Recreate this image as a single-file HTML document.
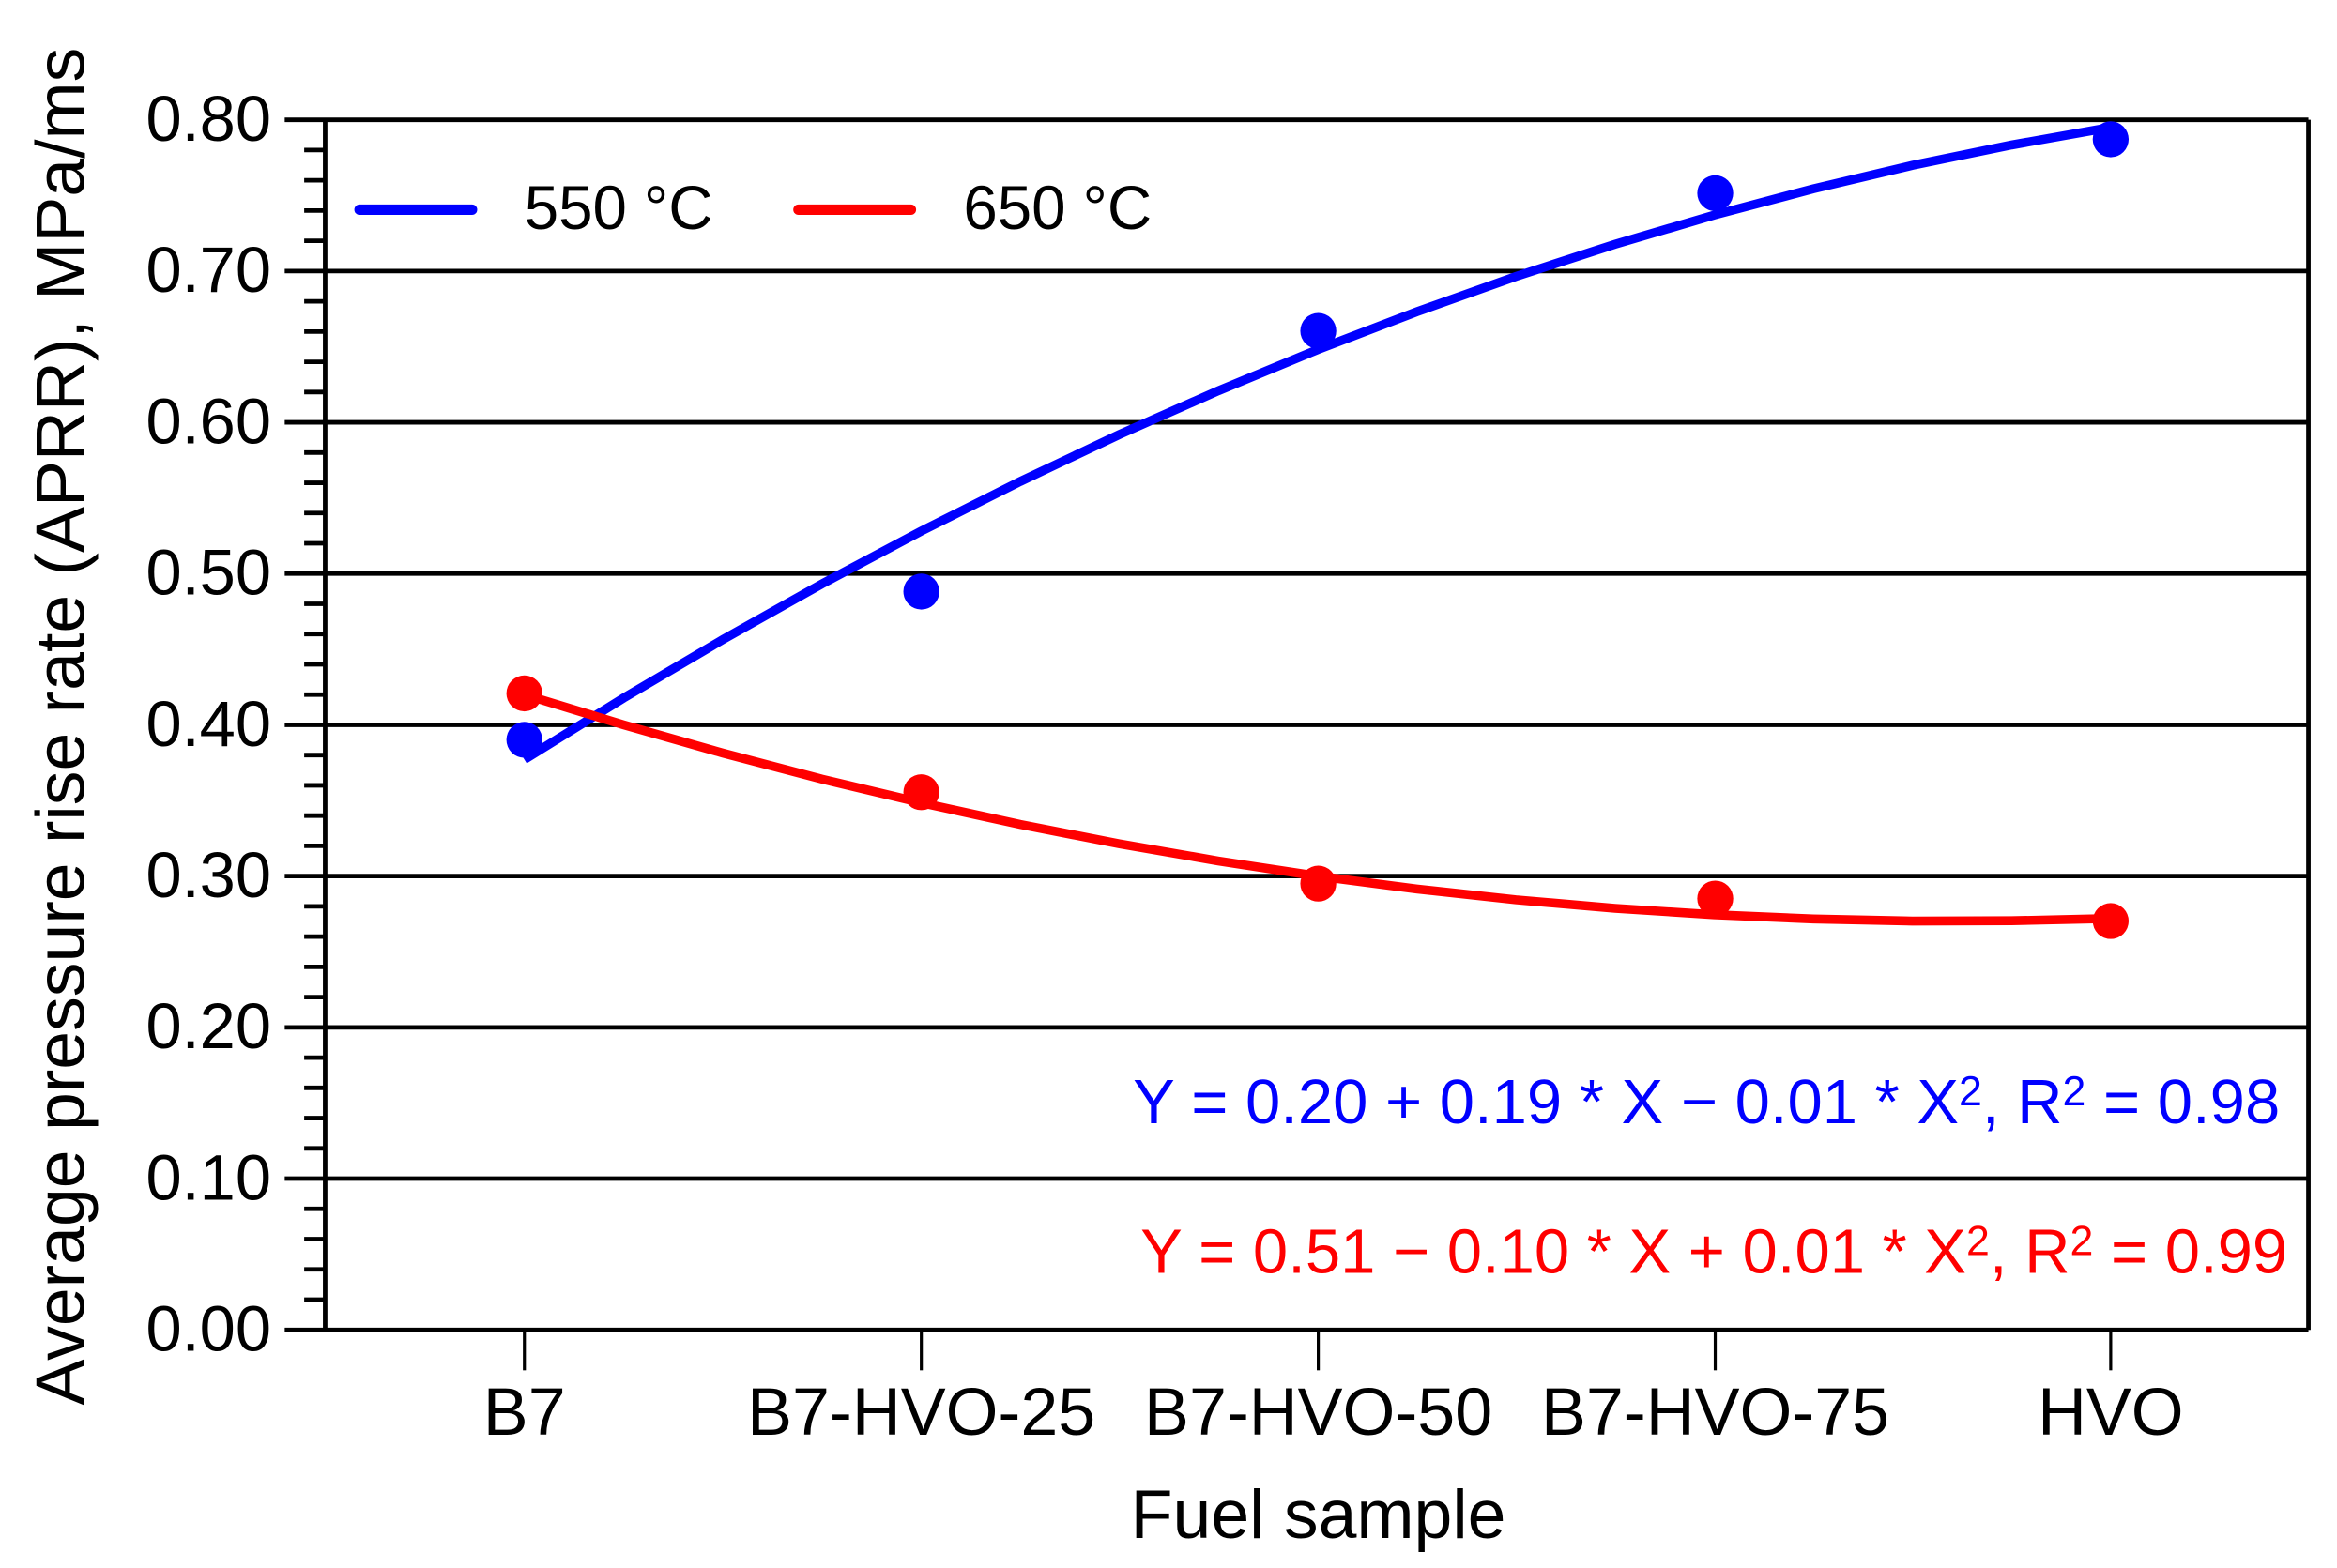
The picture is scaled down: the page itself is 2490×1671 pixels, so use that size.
<!DOCTYPE html>
<html><head><meta charset="utf-8"><style>
html,body{margin:0;padding:0;background:#fff;}
svg{display:block;}
text{font-family:"Liberation Sans",Arial,sans-serif;}
</style></head><body>
<svg width="2490" height="1671" viewBox="0 0 1560 1047" xmlns="http://www.w3.org/2000/svg">
<rect width="1560" height="1047" fill="#fff"/>
<g stroke="#000" stroke-width="3">
<line x1="190" y1="80" x2="1541" y2="80"/>
<line x1="190" y1="181" x2="1541" y2="181"/>
<line x1="190" y1="282" x2="1541" y2="282"/>
<line x1="190" y1="383" x2="1541" y2="383"/>
<line x1="190" y1="484" x2="1541" y2="484"/>
<line x1="190" y1="585" x2="1541" y2="585"/>
<line x1="190" y1="686" x2="1541" y2="686"/>
<line x1="190" y1="787" x2="1541" y2="787"/>
<line x1="190" y1="888" x2="1541" y2="888"/>
<line x1="217" y1="80" x2="217" y2="888"/>
<line x1="1541" y1="80" x2="1541" y2="888"/>
</g>
<g stroke="#000" stroke-width="3">
<path d="M203 100.2H217M203 120.4H217M203 140.6H217M203 160.8H217
M203 201.2H217M203 221.4H217M203 241.6H217M203 261.8H217
M203 302.2H217M203 322.4H217M203 342.6H217M203 362.8H217
M203 403.2H217M203 423.4H217M203 443.6H217M203 463.8H217
M203 504.2H217M203 524.4H217M203 544.6H217M203 564.8H217
M203 605.2H217M203 625.4H217M203 645.6H217M203 665.8H217
M203 706.2H217M203 726.4H217M203 746.6H217M203 766.8H217
M203 807.2H217M203 827.4H217M203 847.6H217M203 867.8H217"/>
</g>
<g stroke="#000" stroke-width="2">
<line x1="350" y1="888" x2="350" y2="915"/>
<line x1="615" y1="888" x2="615" y2="915"/>
<line x1="880" y1="888" x2="880" y2="915"/>
<line x1="1145" y1="888" x2="1145" y2="915"/>
<line x1="1409" y1="888" x2="1409" y2="915"/>
</g>
<g font-size="43" text-anchor="end" fill="#000">
<text x="181" y="94">0.80</text>
<text x="181" y="195">0.70</text>
<text x="181" y="296">0.60</text>
<text x="181" y="397">0.50</text>
<text x="181" y="498">0.40</text>
<text x="181" y="599">0.30</text>
<text x="181" y="700">0.20</text>
<text x="181" y="801">0.10</text>
<text x="181" y="902">0.00</text>
</g>
<g font-size="45" text-anchor="middle" fill="#000">
<text x="350" y="958">B7</text>
<text x="615" y="958">B7-HVO-25</text>
<text x="880" y="958">B7-HVO-50</text>
<text x="1145" y="958">B7-HVO-75</text>
<text x="1409" y="958">HVO</text>
<text x="880" y="1027" font-size="46">Fuel sample</text>
<text transform="translate(56,485) rotate(-90)" font-size="46">Average pressure rise rate (APRR), MPa/ms</text>
</g>
<line x1="240" y1="140" x2="315" y2="140" stroke="#0000ff" stroke-width="7" stroke-linecap="round"/>
<text x="350" y="153" font-size="41">550 °C</text>
<line x1="533" y1="140" x2="608" y2="140" stroke="#ff0000" stroke-width="7" stroke-linecap="round"/>
<text x="643" y="153" font-size="41">650 °C</text>
<polyline fill="none" stroke="#0000ff" stroke-width="6" points="350,507.2 416.2,466.1 482.4,427.1 548.6,389.9 614.8,354.7 681,321.5 747.1,290.2 813.3,260.9 879.5,233.5 945.7,208.2 1011.9,184.6 1078.1,163.1 1144.3,143.6 1210.4,126.1 1276.6,110.4 1342.8,96.8 1409,85"/>
<polyline fill="none" stroke="#ff0000" stroke-width="6" points="350,463.8 416.2,484 482.4,502.8 548.6,520.2 614.8,536 681,550.5 747.1,563.4 813.3,574.9 879.5,585 945.7,593.6 1011.9,600.8 1078.1,606.5 1144.3,610.8 1210.4,613.6 1276.6,615 1342.8,614.8 1409,613.3"/>
<g fill="#0000ff">
<circle cx="350" cy="494" r="12"/><circle cx="615" cy="395" r="12"/><circle cx="880" cy="221" r="12"/><circle cx="1145" cy="129" r="12"/><circle cx="1409" cy="93" r="12"/>
</g>
<g fill="#ff0000">
<circle cx="350" cy="463" r="12"/><circle cx="615" cy="529" r="12"/><circle cx="880" cy="590" r="12"/><circle cx="1145" cy="600" r="12"/><circle cx="1409" cy="615" r="12"/>
</g>
<text x="1522" y="750" font-size="42" text-anchor="end" fill="#0000ff">Y = 0.20 + 0.19 * X − 0.01 * X<tspan font-size="28" dy="-12">2</tspan><tspan dy="12">, R</tspan><tspan font-size="28" dy="-12">2</tspan><tspan dy="12"> = 0.98</tspan></text>
<text x="1527" y="850" font-size="42" text-anchor="end" fill="#ff0000">Y = 0.51 − 0.10 * X + 0.01 * X<tspan font-size="28" dy="-12">2</tspan><tspan dy="12">, R</tspan><tspan font-size="28" dy="-12">2</tspan><tspan dy="12"> = 0.99</tspan></text>
</svg>
</body></html>
